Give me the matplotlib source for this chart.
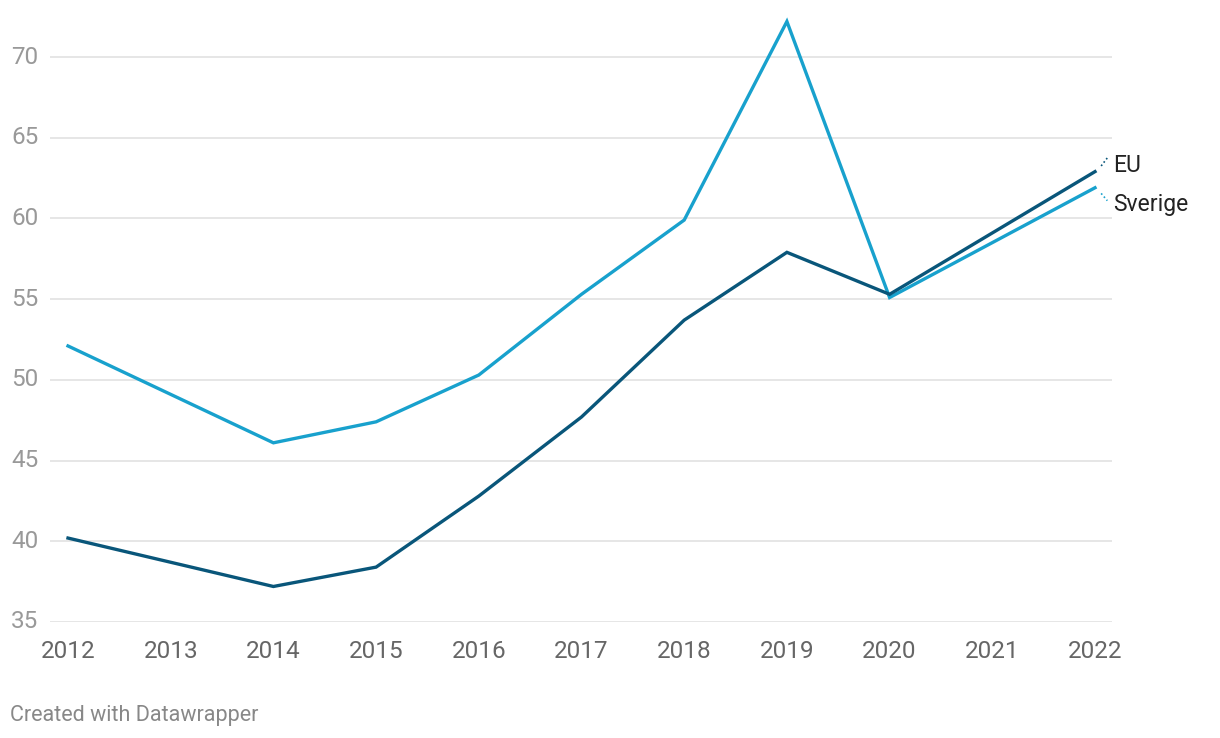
import matplotlib
matplotlib.use("Agg")
import matplotlib.pyplot as plt

years_sv = [2012, 2014, 2015, 2016, 2017, 2018, 2019, 2020, 2022]
sverige = [52.1, 46.1, 47.4, 50.3, 55.3, 59.9, 72.2, 55.1, 61.9]
years_eu = [2012, 2014, 2015, 2016, 2017, 2018, 2019, 2020, 2022]
eu = [40.2, 37.2, 38.4, 42.8, 47.7, 53.7, 57.9, 55.3, 62.9]
x_ticks = list(range(2012, 2023))
y_ticks = [35, 40, 45, 50, 55, 60, 65, 70]

plt.rcParams['font.family'] = ['Roboto', 'DejaVu Sans']

W, H = 1220, 738
fig = plt.figure(figsize=(W / 100, H / 100), dpi=100)
left, right, bottom, top = 50, 1112, 622, 8
ax = fig.add_axes([left / W, 1 - bottom / H, (right - left) / W, (bottom - top) / H])

px_per_year = (1095 - 68) / 10
ax.set_xlim(2012 - (68 - left) / px_per_year, 2022 + (right - 1095) / px_per_year)
px_per_unit = (622 - 57) / 35
ax.set_ylim(35, 35 + (bottom - top) / px_per_unit)

for yt in y_ticks:
    ax.axhline(yt, color='#e2e2e2', lw=1.2, zorder=0)

c_sv = '#18a1cd'
c_eu = '#09567a'
ax.plot(years_sv, sverige, color=c_sv, lw=2.4, solid_joinstyle='miter', clip_on=False, zorder=3)
ax.plot(years_eu, eu, color=c_eu, lw=2.4, solid_joinstyle='miter', clip_on=False, zorder=4)

for s in ax.spines.values():
    s.set_visible(False)
ax.set_xticks(x_ticks)
ax.set_xticklabels([str(x) for x in x_ticks])
ax.set_yticks(y_ticks)
ax.set_yticklabels([str(y) for y in y_ticks])
ax.tick_params(axis='both', length=0)
ax.tick_params(axis='x', labelsize=17.5, labelcolor='#666666', pad=13)
ax.tick_params(axis='y', labelsize=17.5, labelcolor='#999999', pad=0)
for lbl in ax.get_yticklabels():
    lbl.set_horizontalalignment('left')
    lbl.set_x(-39 / (right - left))
    lbl.set_verticalalignment('center')

# end labels
fig.text(1113 / W, 1 - 166 / H, 'EU', fontsize=16.5, color='#222222', va='center', ha='left')
fig.text(1113 / W, 1 - 204 / H, 'Sverige', fontsize=16.5, color='#222222', va='center', ha='left')

# dotted connectors
ax.plot([2022.06, 2022.12], [63.25, 63.75], color=c_eu, lw=1.2, ls=(0, (1, 1.5)), clip_on=False)
ax.plot([2022.06, 2022.12], [61.55, 61.1], color=c_sv, lw=1.2, ls=(0, (1, 1.5)), clip_on=False)

fig.text(10 / W, 1 - 715 / H, 'Created with Datawrapper', fontsize=15.5, color='#888888', va='center', ha='left')

fig.savefig('out.png', dpi=100, facecolor='white')
